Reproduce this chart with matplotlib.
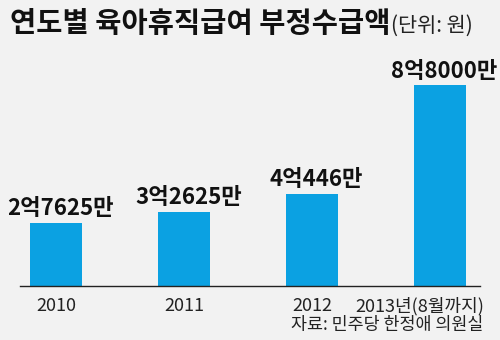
import matplotlib
matplotlib.use("Agg")
import matplotlib.pyplot as plt
import matplotlib.transforms as mtransforms

plt.rcParams['font.family'] = ['Noto Sans CJK KR', 'DejaVu Sans']

years = ["2010", "2011", "2012", "2013년(8월까지)"]
amounts = [276250000, 326250000, 404460000, 880000000]
value_labels = ["2억7625만", "3억2625만", "4억446만", "8억8000만"]

title = "연도별 육아휴직급여 부정수급액"
unit = "(단위: 원)"
source = "자료: 민주당 한정애 의원실"

W, H = 500, 340
bg = "#f2f2f2"
bar_color = "#0ba1e2"

fig = plt.figure(figsize=(W / 100, H / 100), dpi=100, facecolor=bg)
ax = fig.add_axes([20 / W, (H - 286) / H, 460 / W, 226 / H])
ax.set_facecolor(bg)

x = list(range(len(years)))
ax.bar(x, amounts, width=0.406, color=bar_color, zorder=2)
ax.set_xlim(-0.285, 3.309)
ax.set_ylim(0, 9.91e8)

for xi, v, lab in zip(x, amounts, value_labels):
    ax.annotate(lab, (xi, v), xytext=(3, 2), textcoords="offset points",
                ha="center", va="bottom", fontsize=16, fontweight="bold",
                color="#111111")

for s in ["top", "right", "left"]:
    ax.spines[s].set_visible(False)
ax.spines["bottom"].set_color("#222222")
ax.spines["bottom"].set_linewidth(1.0)
ax.set_yticks([])
ax.set_xticks(x)
ax.set_xticklabels(years, fontsize=13, color="#222222")
ax.tick_params(axis="x", length=0, pad=8)
last = ax.get_xticklabels()[-1]
last.set_transform(last.get_transform() +
                   mtransforms.ScaledTranslation(-21 / 100, 0, fig.dpi_scale_trans))

fig.text(10 / W, 1 - 24 / H, title, fontsize=20.5, fontweight="bold",
         ha="left", va="center", color="#111111")
fig.text(391 / W, 1 - 26 / H, unit, fontsize=15, ha="left", va="center",
         color="#222222")
fig.text(483 / W, 1 - 325 / H, source, fontsize=12.5, ha="right", va="center",
         color="#222222")

fig.savefig("out.png", dpi=100, facecolor=bg)
